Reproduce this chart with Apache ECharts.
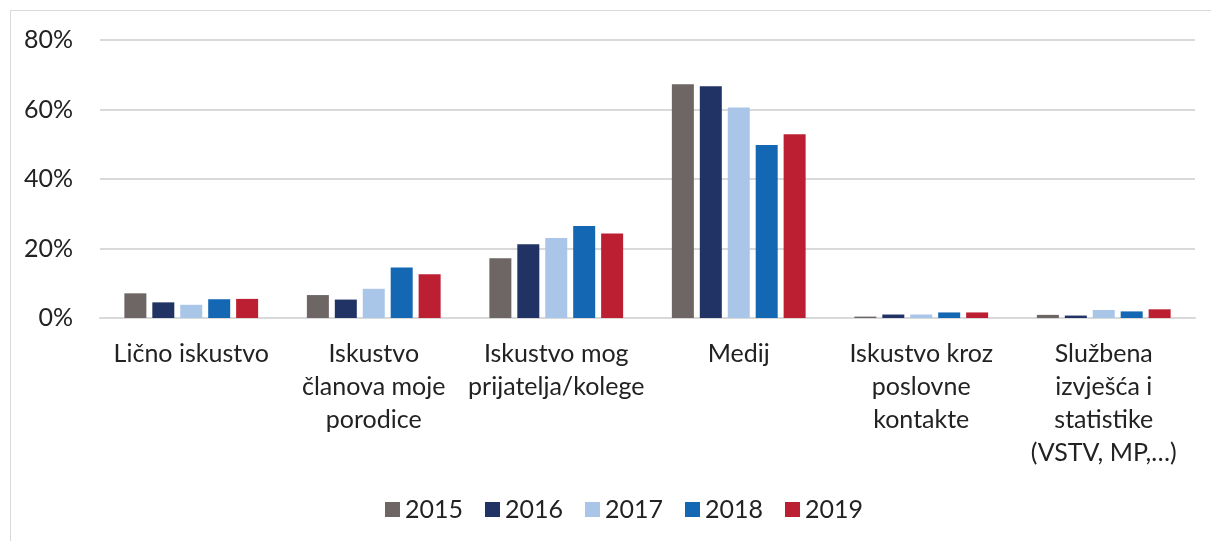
<!DOCTYPE html>
<html>
<head>
    <meta charset="utf-8">
    <title>ECharts</title>
    <script src="https://cdn.jsdelivr.net/npm/echarts@6/dist/echarts.min.js"></script>
    <style>
        body { margin: 0; background: #fff; }
        #frame { position: absolute; left: 10px; top: 10px; width: 1300px; height: 600px;
                 border-left: 1px solid #d9d9d9; border-top: 1px solid #d9d9d9; }
    </style>
</head>
<body>
<div id="frame"></div>
<div id="main" style="position:absolute;left:0;top:0;width: 1211px;height:541px;"></div>
<script type="text/javascript">
    // categories and values (percent)
    var categories = [
        'Lično iskustvo',
        'Iskustvo\nčlanova moje\nporodice',
        'Iskustvo mog\nprijatelja/kolege',
        'Medij',
        'Iskustvo kroz\nposlovne\nkontakte',
        'Službena\nizvješća i\nstatistike\n(VSTV, MP,…)'
    ];
    var years = ['2015', '2016', '2017', '2018', '2019'];
    var v2015 = [7.1, 6.6, 17.2, 67.3, 0.4, 0.9];
    var v2016 = [4.5, 5.3, 21.2, 66.7, 1.0, 0.7];
    var v2017 = [3.8, 8.4, 23.0, 60.6, 1.0, 2.3];
    var v2018 = [5.4, 14.5, 26.5, 49.8, 1.6, 1.9];
    var v2019 = [5.5, 12.6, 24.3, 52.9, 1.6, 2.5];
    var yTicks = [0, 20, 40, 60, 80];

    var colors = ['#6E6565', '#203364', '#A9C5E8', '#1467B3', '#BC1F31'];
    var allValues = [v2015, v2016, v2017, v2018, v2019];

    var myChart = echarts.init(document.getElementById('main'));
    var font = 'Lato, "Open Sans", sans-serif';

    var series = years.map(function (y, i) {
        return {
            name: y,
            type: 'bar',
            data: allValues[i],
            barWidth: 22,
            barGap: '27%',
            itemStyle: { color: colors[i] }
        };
    });

    var option = {
        animation: false,
        color: colors,
        grid: { left: 100, right: 16, top: 40, bottom: 223 },
        legend: {
            data: years,
            bottom: 14,
            left: 380,
            icon: 'rect',
            itemWidth: 15,
            itemHeight: 15,
            itemGap: 22,
            textStyle: { fontFamily: font, fontSize: 25, color: '#222' }
        },
        xAxis: {
            type: 'category',
            data: categories,
            axisTick: { show: false },
            axisLine: { lineStyle: { color: '#d9d9d9', width: 2 } },
            axisLabel: {
                interval: 0,
                margin: 19,
                fontFamily: font,
                fontSize: 25,
                lineHeight: 33,
                color: '#222'
            }
        },
        yAxis: {
            type: 'value',
            min: yTicks[0],
            max: yTicks[yTicks.length - 1],
            interval: 20,
            axisLine: { show: false },
            axisTick: { show: false },
            splitLine: { lineStyle: { color: '#d9d9d9', width: 2 } },
            axisLabel: {
                formatter: '{value}%',
                margin: 27,
                fontFamily: font,
                fontSize: 25,
                color: '#222'
            }
        },
        series: series
    };
    myChart.setOption(option);
</script>
</body>
</html>
